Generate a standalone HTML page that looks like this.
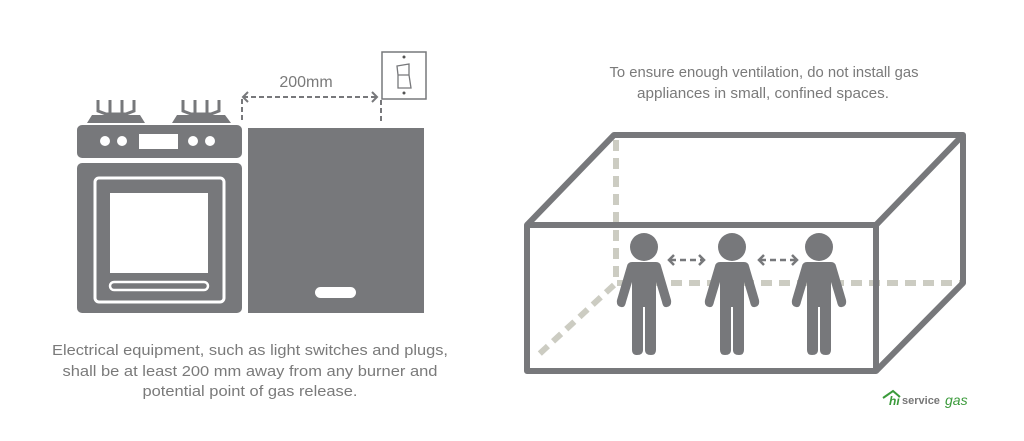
<!DOCTYPE html>
<html><head><meta charset="utf-8"><style>
html,body{margin:0;padding:0;background:#fff;}
svg{display:block}
text{font-family:"Liberation Sans",sans-serif;fill:#7a7a7a;}
</style></head><body>
<svg width="1024" height="441" viewBox="0 0 1024 441" xmlns="http://www.w3.org/2000/svg">
<!-- Stove burners -->
<g fill="none" stroke="#77787b" stroke-width="3">
<path d="M98 100 V111 L106 114 H126 L134 111 V100 M110 100 V113 M122 100 V113"/>
<path d="M183 100 V111 L191 114 H211 L219 111 V100 M195 100 V113 M207 100 V113"/>
</g>
<path d="M87 123 L92 115 H140 L145 123 Z" fill="#77787b"/>
<path d="M172 123 L177 115 H225 L231 123 Z" fill="#77787b"/>
<!-- control panel -->
<rect x="77" y="125" width="165" height="33" rx="5" fill="#77787b"/>
<circle cx="105" cy="141" r="5" fill="#fff"/><circle cx="122" cy="141" r="5" fill="#fff"/>
<rect x="139" y="134" width="39" height="15" fill="#fff"/>
<circle cx="193" cy="141" r="5" fill="#fff"/><circle cx="210" cy="141" r="5" fill="#fff"/>
<!-- oven -->
<rect x="77" y="163" width="165" height="150" rx="5" fill="#77787b"/>
<rect x="95" y="178" width="129" height="124" rx="4" fill="none" stroke="#fff" stroke-width="3"/>
<rect x="110" y="193" width="98" height="80" fill="#fff"/>
<rect x="110" y="282" width="98" height="8" rx="4" fill="none" stroke="#fff" stroke-width="2.5"/>
<!-- cabinet -->
<rect x="248" y="128" width="176" height="185" fill="#77787b"/>
<rect x="315" y="287" width="41" height="11" rx="5.5" fill="#fff"/>
<!-- dimension -->
<g stroke="#77787b" stroke-width="2" stroke-dasharray="5,3" fill="none">
<path d="M243 97 H378"/><path d="M242 99 V122"/><path d="M381 100 V124"/>
</g>
<path d="M248 92 L243 97 L248 102 M372 92 L377 97 L372 102" stroke="#77787b" stroke-width="2" fill="none"/>
<text x="306" y="87" font-size="16" text-anchor="middle">200mm</text>
<!-- switch -->
<rect x="382" y="52" width="44" height="47" fill="#fff" stroke="#77787b" stroke-width="1.5"/>
<circle cx="404" cy="57" r="1.5" fill="#555"/><circle cx="404" cy="93" r="1.5" fill="#555"/>
<path d="M397 66 L409 64 V75 L411 88 H398 V75 L397 66 Z M398 75 H409" fill="none" stroke="#77787b" stroke-width="1.3"/>
<!-- texts -->
<text x="250" y="355" font-size="14.5" text-anchor="middle" textLength="396" lengthAdjust="spacingAndGlyphs">Electrical equipment, such as light switches and plugs,</text>
<text x="250" y="376" font-size="14.5" text-anchor="middle" textLength="375" lengthAdjust="spacingAndGlyphs">shall be at least 200 mm away from any burner and</text>
<text x="250" y="396" font-size="14.5" text-anchor="middle" textLength="215" lengthAdjust="spacingAndGlyphs">potential point of gas release.</text>
<text x="764" y="77" font-size="14.5" text-anchor="middle" textLength="309" lengthAdjust="spacingAndGlyphs">To ensure enough ventilation, do not install gas</text>
<text x="763" y="98" font-size="14.5" text-anchor="middle" textLength="252" lengthAdjust="spacingAndGlyphs">appliances in small, confined spaces.</text>
<!-- box dashed back -->
<g stroke="#ccccc2" stroke-width="6" stroke-dasharray="11,7" fill="none">
<path d="M616 140 V283 H960"/><path d="M614 285 L535 358"/>
</g>
<!-- box solid -->
<g stroke="#77787b" stroke-width="6" fill="none" stroke-linejoin="round">
<rect x="527" y="225" width="349" height="146"/>
<path d="M527 225 L614 135 H963 L876 225 M963 135 V283 L876 371"/>
</g>
<!-- people -->
<g fill="#77787b">
<g id="p">
<circle cx="644" cy="247" r="14"/>
<path d="M632 262 H656 Q660 262 661 266 L671 300 Q672 306 667 307 Q663 308 662 302 L656 282 V350 Q656 355 651 355 Q645 355 645 350 V307 H643 V350 Q643 355 637 355 Q632 355 632 350 V282 L626 302 Q625 308 621 307 Q616 306 617 300 L627 266 Q628 262 632 262 Z"/>
</g>
<use href="#p" x="88"/><use href="#p" x="175"/>
</g>
<g stroke="#77787b" stroke-width="2.5" fill="none">
<path d="M670 260 H703" stroke-dasharray="6,4"/>
<path d="M674 255 L669 260 L674 265 M699 255 L704 260 L699 265"/>
<path d="M760 260 H796" stroke-dasharray="6,4"/>
<path d="M764 255 L759 260 L764 265 M792 255 L797 260 L792 265"/>
</g>
<!-- logo -->
<path d="M883 398 L893 391 L900 397" stroke="#3a9a3a" stroke-width="2" fill="none"/>
<text x="889" y="405" font-size="12" font-weight="bold" font-style="italic" style="fill:#3a9a3a">hi</text>
<text x="902" y="404" font-size="11" font-weight="bold" style="fill:#777">service</text>
<text x="945" y="405" font-size="14" font-style="italic" font-family="Liberation Serif" style="fill:#3a9a3a">gas</text>
</svg>
</body></html>
